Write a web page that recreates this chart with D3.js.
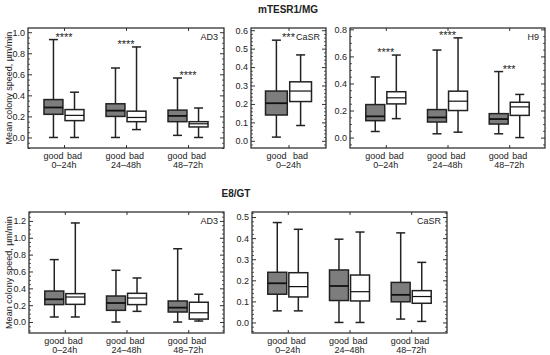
<html>
<head>
  <meta charset="utf-8">
  <script src="https://d3js.org/d3.v7.min.js"></script>
  <style>
    body { margin: 0; background: #fff; }
    text { font-family: "Liberation Sans", Arial, sans-serif; fill: #222; }
  </style>
</head>
<body>
<svg id="chart" width="550" height="355"></svg>
<script>
  // ---- data: box stats are [min, q1, median, q3, max] for [good, bad] per time window
  var groups = ["0–24h", "24–48h", "48–72h"];
  var conditions = ["good", "bad"];

  var mtesrAD3 = [
    [[0.00, 0.22, 0.285, 0.36, 0.93], [0.00, 0.16, 0.21, 0.265, 0.43]],
    [[0.00, 0.20, 0.255, 0.32, 0.66], [0.075, 0.15, 0.19, 0.25, 0.86]],
    [[0.02, 0.15, 0.205, 0.26, 0.565], [0.00, 0.10, 0.13, 0.15, 0.28]]
  ];
  var mtesrAD3Stars = ["****", "****", "****"];

  var mtesrCaSR = [
    [[0.02, 0.14, 0.204, 0.27, 0.546], [0.083, 0.213, 0.27, 0.32, 0.466]]
  ];
  var mtesrCaSRStars = ["***"];

  var mtesrH9 = [
    [[0.045, 0.125, 0.157, 0.244, 0.448], [0.14, 0.249, 0.294, 0.339, 0.61]],
    [[0.028, 0.115, 0.149, 0.207, 0.647], [0.04, 0.20, 0.269, 0.343, 0.737]],
    [[0.028, 0.10, 0.137, 0.177, 0.488], [0.00, 0.164, 0.227, 0.261, 0.319]]
  ];
  var mtesrH9Stars = ["****", "****", "***"];

  var e8AD3 = [
    [[0.06, 0.207, 0.27, 0.368, 0.741], [0.06, 0.21, 0.297, 0.337, 1.176]],
    [[0.00, 0.139, 0.226, 0.309, 0.614], [0.127, 0.207, 0.285, 0.341, 0.523]],
    [[0.00, 0.119, 0.171, 0.25, 0.87], [0.012, 0.035, 0.11, 0.235, 0.33]]
  ];

  var e8CaSR = [
    [[0.055, 0.134, 0.186, 0.238, 0.474], [0.055, 0.121, 0.17, 0.236, 0.442]],
    [[0.00, 0.104, 0.173, 0.249, 0.395], [0.00, 0.102, 0.146, 0.225, 0.429]],
    [[0.016, 0.098, 0.131, 0.19, 0.425], [0.005, 0.091, 0.123, 0.151, 0.285]]
  ];

  var mtesrTicks = [[0, 0.2, 0.4, 0.6, 0.8, 1.0], [0, 0.1, 0.2, 0.3, 0.4, 0.5, 0.6], [0, 0.2, 0.4, 0.6, 0.8]];
  var e8Ticks = [[0, 0.2, 0.4, 0.6, 0.8, 1.0, 1.2], [0, 0.1, 0.2, 0.3, 0.4, 0.5]];

  // ---- layout
  var svg = d3.select("#chart");
  var fmt = d3.format(".1f");

  var panels = [
    {label: "AD3", data: mtesrAD3, stars: mtesrAD3Stars, ticks: mtesrTicks[0], minor: 0.05,
     domain: [-0.1, 1.04], left: 28, right: 224, top: 28, bottom: 148, half: 20, yTitle: true},
    {label: "CaSR", data: mtesrCaSR, stars: mtesrCaSRStars, ticks: mtesrTicks[1], minor: 0.02,
     domain: [-0.039, 0.612], left: 251, right: 326, top: 28, bottom: 148, half: 23},
    {label: "H9", data: mtesrH9, stars: mtesrH9Stars, ticks: mtesrTicks[2], minor: 0.05,
     domain: [-0.077, 0.81], left: 350, right: 545, top: 28, bottom: 148, half: 20},
    {label: "AD3", data: e8AD3, stars: null, ticks: e8Ticks[0], minor: 0.05,
     domain: [-0.13, 1.306], left: 29, right: 224, top: 212, bottom: 333, half: 20, yTitle: true},
    {label: "CaSR", data: e8CaSR, stars: null, ticks: e8Ticks[1], minor: 0.02,
     domain: [-0.05, 0.524], left: 252, right: 447, top: 212, bottom: 333, half: 20}
  ];

  // row titles
  svg.append("text").attr("x", 288).attr("y", 13).attr("text-anchor", "middle")
    .style("font-size", "10px").style("font-weight", "bold").text("mTESR1/MG");
  svg.append("text").attr("x", 236).attr("y", 197).attr("text-anchor", "middle")
    .style("font-size", "10px").style("font-weight", "bold").text("E8/GT");

  panels.forEach(drawPanel);

  function drawPanel(p) {
    var g = svg.append("g");
    var used = groups.slice(0, p.data.length);

    var y = d3.scaleLinear().domain(p.domain).range([p.bottom, p.top]);
    var x0 = d3.scalePoint().domain(used).range([p.left, p.right]).padding(0.58);
    var x1 = d3.scaleBand().domain(conditions).range([-p.half, p.half]).paddingInner(0.1);
    var bw = x1.bandwidth();

    // minor ticks
    var minors = d3.range(Math.ceil(p.domain[0] / p.minor) * p.minor, p.domain[1], p.minor)
      .filter(function(v) { return p.ticks.every(function(t) { return Math.abs(t - v) > 1e-6; }); });
    [[d3.axisLeft, p.left], [d3.axisRight, p.right]].forEach(function(a) {
      var m = g.append("g").attr("transform", "translate(" + a[1] + ",0)")
        .call(a[0](y).tickValues(minors).tickSize(-2).tickFormat(""));
      m.select(".domain").remove();
      m.selectAll("line").attr("stroke", "#333").attr("stroke-width", 0.8);
    });

    // major ticks
    var ax = g.append("g").attr("transform", "translate(" + p.left + ",0)")
      .call(d3.axisLeft(y).tickValues(p.ticks).tickSize(-4).tickPadding(3).tickFormat(fmt));
    ax.select(".domain").remove();
    ax.selectAll("line").attr("stroke", "#333").attr("stroke-width", 1);
    ax.selectAll("text").style("font-size", "9px").style("font-family", "Liberation Sans, Arial, sans-serif").attr("fill", "#222");

    var axr = g.append("g").attr("transform", "translate(" + p.right + ",0)")
      .call(d3.axisRight(y).tickValues(p.ticks).tickSize(-4).tickFormat(""));
    axr.select(".domain").remove();
    axr.selectAll("line").attr("stroke", "#333").attr("stroke-width", 1);

    // group ticks on top and bottom edges
    var gt = g.append("g").attr("transform", "translate(0," + p.bottom + ")")
      .call(d3.axisBottom(x0).tickSize(-3).tickFormat(""));
    gt.select(".domain").remove();
    gt.selectAll("line").attr("stroke", "#333");
    var gtt = g.append("g").attr("transform", "translate(0," + p.top + ")")
      .call(d3.axisTop(x0).tickSize(-3).tickFormat(""));
    gtt.select(".domain").remove();
    gtt.selectAll("line").attr("stroke", "#333");

    // frame
    g.append("rect").attr("x", p.left).attr("y", p.top)
      .attr("width", p.right - p.left).attr("height", p.bottom - p.top)
      .attr("fill", "none").attr("stroke", "#222").attr("stroke-width", 1.2);

    // boxes
    p.data.forEach(function(pair, i) {
      var grp = used[i];
      pair.forEach(function(s, j) {
        var c = conditions[j];
        var cx = x0(grp) + x1(c) + bw / 2;
        var b = g.append("g");
        b.append("line").attr("x1", cx).attr("x2", cx).attr("y1", y(s[0])).attr("y2", y(s[1]))
          .attr("stroke", "#222").attr("stroke-width", 1.5);
        b.append("line").attr("x1", cx).attr("x2", cx).attr("y1", y(s[3])).attr("y2", y(s[4]))
          .attr("stroke", "#222").attr("stroke-width", 1.5);
        [s[0], s[4]].forEach(function(v) {
          b.append("line").attr("x1", cx - 4.5).attr("x2", cx + 4.5).attr("y1", y(v)).attr("y2", y(v))
            .attr("stroke", "#222").attr("stroke-width", 1.5);
        });
        b.append("rect").attr("x", cx - bw / 2).attr("width", bw)
          .attr("y", y(s[3])).attr("height", y(s[1]) - y(s[3]))
          .attr("fill", c == "good" ? "#7d7d7d" : "#fff")
          .attr("stroke", "#222").attr("stroke-width", 1.5);
        b.append("line").attr("x1", cx - bw / 2).attr("x2", cx + bw / 2)
          .attr("y1", y(s[2])).attr("y2", y(s[2]))
          .attr("stroke", "#111").attr("stroke-width", c == "good" ? 1.8 : 1.2);

        g.append("text").attr("x", cx).attr("y", p.bottom + 10.5)
          .attr("text-anchor", "middle").style("font-size", "9px").text(c);
      });

      g.append("text").attr("x", x0(grp)).attr("y", p.bottom + 19.5)
        .attr("text-anchor", "middle").style("font-size", "9px").text(grp);

      if (p.stars) {
        var top = d3.max(pair, function(s) { return s[4]; });
        g.append("text").attr("x", x0(grp)).attr("y", y(top) + 1)
          .attr("text-anchor", "middle").style("font-size", "11px").text(p.stars[i]);
      }
    });

    // panel label
    g.append("text").attr("x", p.right - 6).attr("y", p.top + 12)
      .attr("text-anchor", "end").style("font-size", "9px").text(p.label);

    if (p.yTitle) {
      g.append("text")
        .attr("transform", "translate(12," + ((p.top + p.bottom) / 2) + ") rotate(-90)")
        .attr("text-anchor", "middle").style("font-size", "9px")
        .text("Mean colony speed, µm/min");
    }
  }
</script>
</body>
</html>
